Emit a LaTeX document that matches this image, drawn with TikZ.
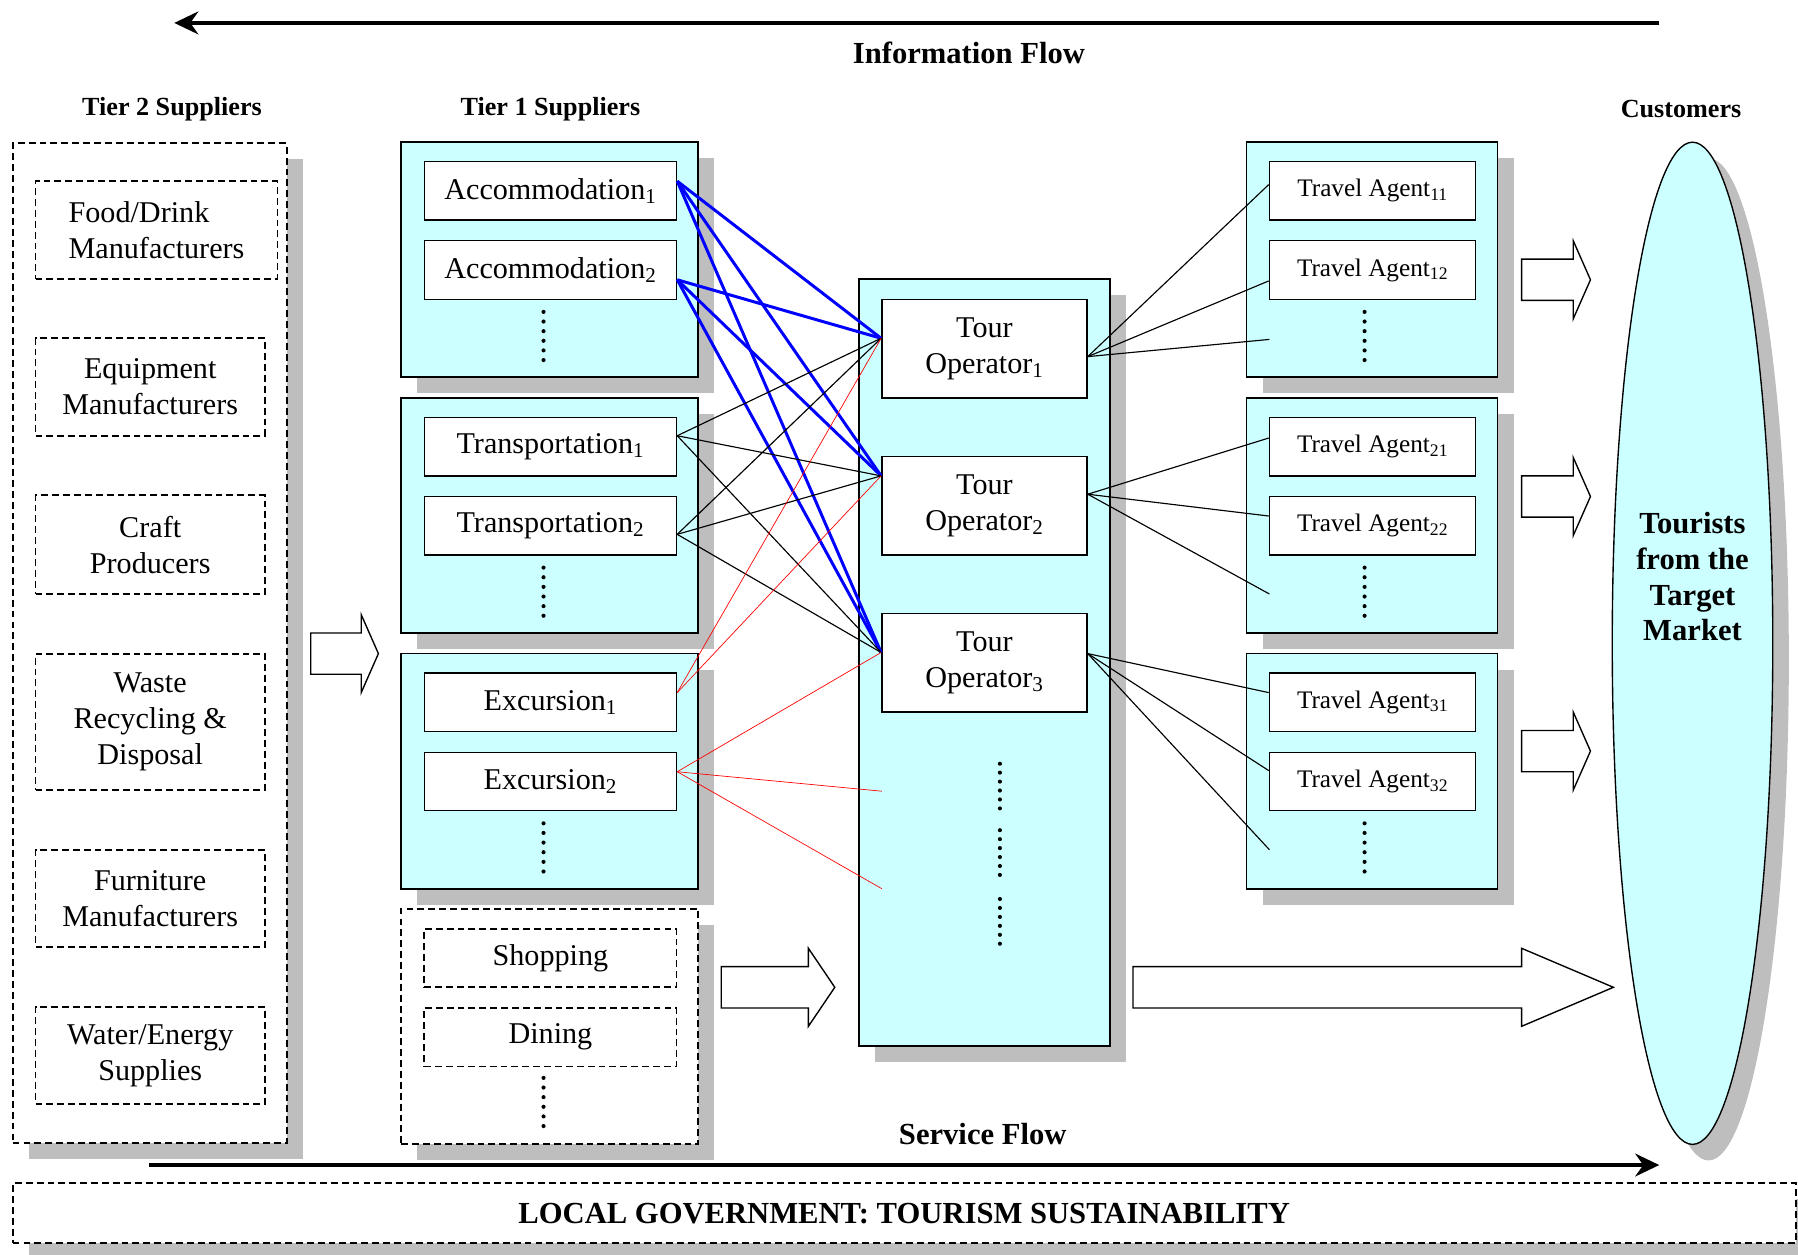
\documentclass[tikz,border=0pt]{standalone}
\usepackage{fontspec}
\setmainfont{Liberation Serif}
\usepackage{tikz}
\usetikzlibrary{calc, arrows.meta, shadows, shapes.geometric}

\definecolor{cyanpale}{RGB}{204,255,255}
\definecolor{grisombre}{RGB}{190,190,190}

\newcommand{\policeboite}{\fontsize{26.3}{31.5}\selectfont}
\newcommand{\policeagent}{\fontsize{22}{26}\selectfont}
\newcommand{\policetitre}{\fontsize{22.8}{27}\selectfont\bfseries}
\newcommand{\policeflux}{\fontsize{26.7}{31}\selectfont\bfseries}

% Fleche creuse : debut, base de la pointe, pointe, hauteur
\newcommand{\flechecreuse}[4]{%
  \draw[line width=1.2pt, fill=white]
  (#1,#4-18) -- (#2,#4-18) -- (#2,#4-34) -- (#3,#4)
  -- (#2,#4+34) -- (#2,#4+18) -- (#1,#4+18) -- cycle;}

\tikzset{
  ombre/.style={drop shadow={shadow xshift=14pt, shadow yshift=-14pt, fill=grisombre, opacity=1}},
  groupe/.style={draw, line width=1.5pt, fill=cyanpale, inner sep=0pt, minimum width=259pt, minimum height=205pt, ombre},
  boite/.style={draw, line width=1.2pt, fill=white, inner sep=0pt, minimum width=220pt, minimum height=51pt, font=\policeboite, align=center},
  pointille/.style={line width=1.6pt, dash pattern=on 6pt off 3.5pt},
  flux/.style={line width=2.8pt, -{Stealth[length=21pt, width=20pt, inset=7pt]}},
  lienbleu/.style={blue, line width=2.6pt},
  liennoir/.style={black, line width=1pt},
  lienrouge/.style={red, line width=0.6pt},
}

\begin{document}
\begin{tikzpicture}[x=1pt, y=-1pt]
  \useasboundingbox (0,0) rectangle (1568,1094);

  % Titres
  \node[font=\policeflux] (infoflux) at (845,46) {Information Flow};
  \node[font=\policetitre] (titretier2) at (150,95) {Tier 2 Suppliers};
  \node[font=\policetitre] (titretier1) at (480,95) {Tier 1 Suppliers};
  \node[font=\policetitre] (titreclients) at (1466,95) {Customers};
  \node[font=\policeflux] (serviceflux) at (857,989) {Service Flow};

  % Flux d'information et de service
  \coordinate (infodebut) at (1447,20);
  \coordinate (infofin) at (152,20);
  \coordinate (servdebut) at (130,1016);
  \coordinate (servfin) at (1447,1016);
  \draw[flux] (infodebut) -- (infofin);
  \draw[flux] (servdebut) -- (servfin);

  % Fournisseurs de rang 2
  \node[groupe, fill=white, pointille, minimum width=239pt, minimum height=872pt] (tier2) at (130.5,561) {};
  \node[boite, pointille, minimum width=211pt, minimum height=85pt, align=left] (food) at (136.5,200.5) {Food/Drink\\Manufacturers};
  \node[boite, pointille, minimum width=200pt, minimum height=85pt] (equip) at (131,337.5) {Equipment\\Manufacturers};
  \node[boite, pointille, minimum width=200pt, minimum height=86pt] (craft) at (131,475) {Craft\\Producers};
  \node[boite, pointille, minimum width=200pt, minimum height=119pt] (waste) at (131,629.5) {Waste\\Recycling \&\\Disposal};
  \node[boite, pointille, minimum width=200pt, minimum height=85pt] (furn) at (131,783.5) {Furniture\\Manufacturers};
  \node[boite, pointille, minimum width=200pt, minimum height=85pt] (water) at (131,920.5) {Water/Energy\\Supplies};

  % Fournisseurs de rang 1
  \foreach \nom/\mot/\y in {acc/Accommodation/226.5, trans/Transportation/449.5, exc/Excursion/672.5} {
    \node[groupe] (grp\nom) at (479.5,\y) {};
    \node[boite] (\nom1) at (480,\y-60) {\mot\textsubscript{1}};
    \node[boite] (\nom2) at (480,\y+9) {\mot\textsubscript{2}};
    \foreach \k in {0,...,5} \fill (474,\y+45.5+\k*8.4) circle[radius=1.8];
  }
  \node[groupe, fill=white, pointille] (grpautres) at (479.5,895) {};
  \node[boite, pointille] (shop) at (480,835.5) {Shopping};
  \node[boite, pointille] (dine) at (480,904.5) {Dining};
  \foreach \k in {0,...,5} \fill (474,940+\k*8.4) circle[radius=1.8];

  % Voyagistes
  \node[groupe, minimum width=219pt, minimum height=669pt] (colonne) at (858.5,577.5) {};
  \foreach \i/\y in {1/304, 2/441, 3/578}
    \node[boite, minimum width=179pt, minimum height=86pt] (to\i) at (858.5,\y) {Tour\\Operator\textsubscript{\i}};
  \foreach \y in {666, 724, 784}
    \foreach \k in {0,...,5} \fill (872,\y+\k*7.8) circle[radius=1.8];

  % Agences de voyage
  \foreach \i/\y in {1/226.5, 2/449.5, 3/672.5} {
    \node[groupe, minimum width=219pt] (agences\i) at (1196.5,\y) {};
    \node[boite, minimum width=180pt, font=\policeagent] (ta\i1) at (1197,\y-60) {Travel Agent\textsubscript{\i1}};
    \node[boite, minimum width=180pt, font=\policeagent] (ta\i2) at (1197,\y+9) {Travel Agent\textsubscript{\i2}};
    \foreach \k in {0,...,5} \fill (1190,\y+45.5+\k*8.4) circle[radius=1.8];
  }

  % Clients
  \node[ellipse, draw, line width=1.2pt, fill=cyanpale, minimum width=140pt, minimum height=874pt, inner sep=0pt, ombre] (marche) at (1476,561) {};
  \node[font=\policeflux, align=center] (touristes) at (1476,503) {Tourists\\from the\\Target\\Market};

  % Fleches creuses
  \flechecreuse{271}{315}{330}{570}
  \foreach \y in {244, 433, 655} {\flechecreuse{1327}{1372}{1387}{\y}}
  \flechecreuse{629}{705}{728}{861}
  \flechecreuse{988}{1327}{1407}{861}

  % Gouvernement local
  \node[draw, pointille, fill=white, ombre, minimum width=1555pt, minimum height=52pt, inner sep=0pt, font=\policeflux] (gouv) at (788.5,1058) {LOCAL GOVERNMENT: TOURISM SUSTAINABILITY};

  % Extremites libres
  \foreach \i/\x/\y in {1/1107/296, 2/1107/518, 3/1107/741, 4/769/690, 5/769/775}
    \coordinate (libre\i) at (\x,\y);

  % Liens vers les voyagistes
  \foreach \de/\dya in {acc1/-8.5, acc2/8.5}
    \foreach \vers/\dyb in {to1/-9, to2/-26, to3/-9}
      \draw[lienbleu] ($(\de.east)+(0,\dya)$) -- ($(\vers.west)+(0,\dyb)$);
  \foreach \de/\dya in {trans1/-9.5, trans2/7.5}
    \foreach \vers/\dyb in {to1/-9, to2/-26, to3/-9}
      \draw[liennoir] ($(\de.east)+(0,\dya)$) -- ($(\vers.west)+(0,\dyb)$);
  \foreach \vers/\dyb in {to1/-9, to2/-26}
    \draw[lienrouge] ($(exc1.east)+(0,-8.5)$) -- ($(\vers.west)+(0,\dyb)$);
  \draw[lienrouge] ($(exc2.east)+(0,-8.5)$) -- ($(to3.west)+(0,-9)$);
  \draw[lienrouge] ($(exc2.east)+(0,-8.5)$) -- (libre4);
  \draw[lienrouge] ($(exc2.east)+(0,-8.5)$) -- (libre5);

  % Liens vers les agences
  \foreach \i/\dop/\da/\db in {1/7/-5.5/9.5, 2/-10/-7.5/-8.5, 3/-8/-8.5/-9.5} {
    \draw[liennoir] ($(to\i.east)+(0,\dop)$) -- ($(ta\i1.west)+(0,\da)$);
    \draw[liennoir] ($(to\i.east)+(0,\dop)$) -- ($(ta\i2.west)+(0,\db)$);
    \draw[liennoir] ($(to\i.east)+(0,\dop)$) -- (libre\i);
  }
\end{tikzpicture}
\end{document}
